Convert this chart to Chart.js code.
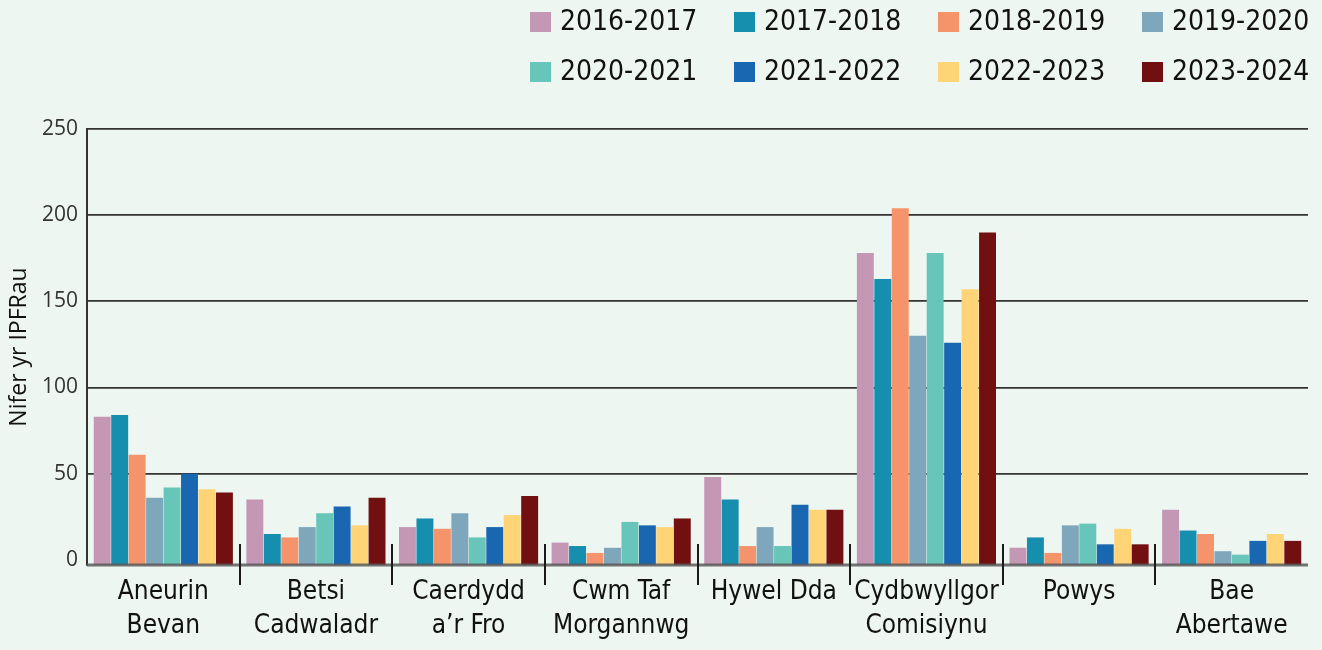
<!DOCTYPE html>
<html>
<head>
<meta charset="utf-8">
<script src="https://cdn.jsdelivr.net/npm/chart.js@4.4.1/dist/chart.umd.min.js"></script>
<style>
  html, body { margin: 0; padding: 0; background: #edf6f0; }
  #wrap { width: 1322px; height: 650px; position: relative; }
</style>
</head>
<body>
<div id="wrap"><canvas id="chart"></canvas></div>
<script>
// Nifer yr IPFRau fesul bwrdd iechyd, 2016-2017 i 2023-2024

const categories = [
  ['Aneurin', 'Bevan'],
  ['Betsi', 'Cadwaladr'],
  ['Caerdydd', 'a\u2019r Fro'],
  ['Cwm Taf', 'Morgannwg'],
  ['Hywel Dda'],
  ['Cydbwyllgor', 'Comisiynu'],
  ['Powys'],
  ['Bae', 'Abertawe']
];

const years = ['2016-2017', '2017-2018', '2018-2019', '2019-2020',
               '2020-2021', '2021-2022', '2022-2023', '2023-2024'];

const colors = ['#c497b5', '#168ead', '#f5946a', '#7fa7bb',
                '#67c5b9', '#1867b0', '#fed477', '#720f11'];

const v2016 = [83, 35, 19, 10, 48, 178, 7, 29];
const v2017 = [84, 15, 24, 8, 35, 163, 13, 17];
const v2018 = [61, 13, 18, 4, 8, 204, 4, 15];
const v2019 = [36, 19, 27, 7, 19, 130, 20, 5];
const v2020 = [42, 27, 13, 22, 8, 178, 21, 3];
const v2021 = [50, 31, 19, 20, 32, 126, 9, 11];
const v2022 = [41, 20, 26, 19, 29, 157, 18, 15];
const v2023 = [39, 36, 37, 24, 29, 190, 9, 11];

const seriesValues = [v2016, v2017, v2018, v2019, v2020, v2021, v2022, v2023];
const yTicks = [0, 50, 100, 150, 200, 250];

const NARROW = "'DejaVu Sans Condensed', 'Liberation Sans Narrow', sans-serif";
const REGULAR = "'Open Sans', 'Noto Sans', sans-serif";

// legend in a 4 x 2 grid, right aligned above the plot
const gridLegend = {
  id: 'gridLegend',
  afterDraw(chart) {
    const ctx = chart.ctx;
    const right = chart.chartArea.right;
    ctx.save();
    ctx.font = '28px ' + NARROW;
    ctx.textBaseline = 'middle';
    chart.data.datasets.forEach((ds, i) => {
      const col = i % 4;
      const row = Math.floor(i / 4);
      const x = right - 166 - (3 - col) * 204;
      const y = 22 + row * 50;
      ctx.fillStyle = ds.backgroundColor;
      ctx.fillRect(x, y - 10, 21, 20);
      ctx.fillStyle = '#111';
      ctx.fillText(ds.label, x + 30, y + 1);
    });
    ctx.restore();
  }
};

// short dividers between the board groups + the grey base line
const groupDividers = {
  id: 'groupDividers',
  afterDatasetsDraw(chart) {
    const xs = chart.scales.x;
    const area = chart.chartArea;
    const ctx = chart.ctx;
    ctx.save();
    ctx.strokeStyle = 'rgba(90, 90, 90, 0.85)';
    ctx.lineWidth = 3;
    ctx.beginPath();
    ctx.moveTo(area.left, area.bottom);
    ctx.lineTo(area.right, area.bottom);
    ctx.stroke();
    ctx.strokeStyle = '#1a1a1a';
    ctx.lineWidth = 2;
    for (let i = 1; i < categories.length; i++) {
      const x = Math.round((xs.getPixelForValue(i - 1) + xs.getPixelForValue(i)) / 2);
      ctx.beginPath();
      ctx.moveTo(x, area.bottom - 21);
      ctx.lineTo(x, area.bottom + 20);
      ctx.stroke();
    }
    ctx.restore();
  }
};

new Chart(document.getElementById('chart'), {
  type: 'bar',
  data: {
    labels: categories,
    datasets: years.map((y, i) => ({
      label: y,
      data: seriesValues[i],
      backgroundColor: colors[i],
      base: -3,
      categoryPercentage: 0.915,
      barPercentage: 0.97
    }))
  },
  options: {
    responsive: true,
    maintainAspectRatio: false,
    animation: false,
    layout: { padding: { top: 129, right: 14, bottom: 0, left: 0 } },
    plugins: {
      legend: { display: false },
      tooltip: { enabled: false }
    },
    scales: {
      x: {
        afterFit: s => { s.height = 85; },
        grid: { display: false, drawTicks: false },
        border: { display: false },
        ticks: {
          padding: 10,
          maxRotation: 0,
          minRotation: 0,
          autoSkip: false,
          color: '#111',
          font: { family: NARROW, size: 26, lineHeight: 1.31 }
        }
      },
      y: {
        min: -3,
        max: 250,
        afterBuildTicks: s => { s.ticks = yTicks.map(v => ({ value: v })); },
        afterFit: s => { s.width = 87; },
        grid: {
          drawTicks: false,
          color: c => (c.tick && c.tick.value === 0) ? 'rgba(0,0,0,0)' : '#333',
          lineWidth: 1.7
        },
        border: { color: '#333', width: 2 },
        ticks: {
          padding: 9,
          color: '#333',
          font: { family: REGULAR, size: 21 }
        },
        title: {
          display: true,
          text: 'Nifer yr IPFRau',
          color: '#111',
          padding: { top: 6, bottom: 0 },
          font: { family: REGULAR, size: 23 }
        }
      }
    }
  },
  plugins: [gridLegend, groupDividers]
});
</script>
</body>
</html>
